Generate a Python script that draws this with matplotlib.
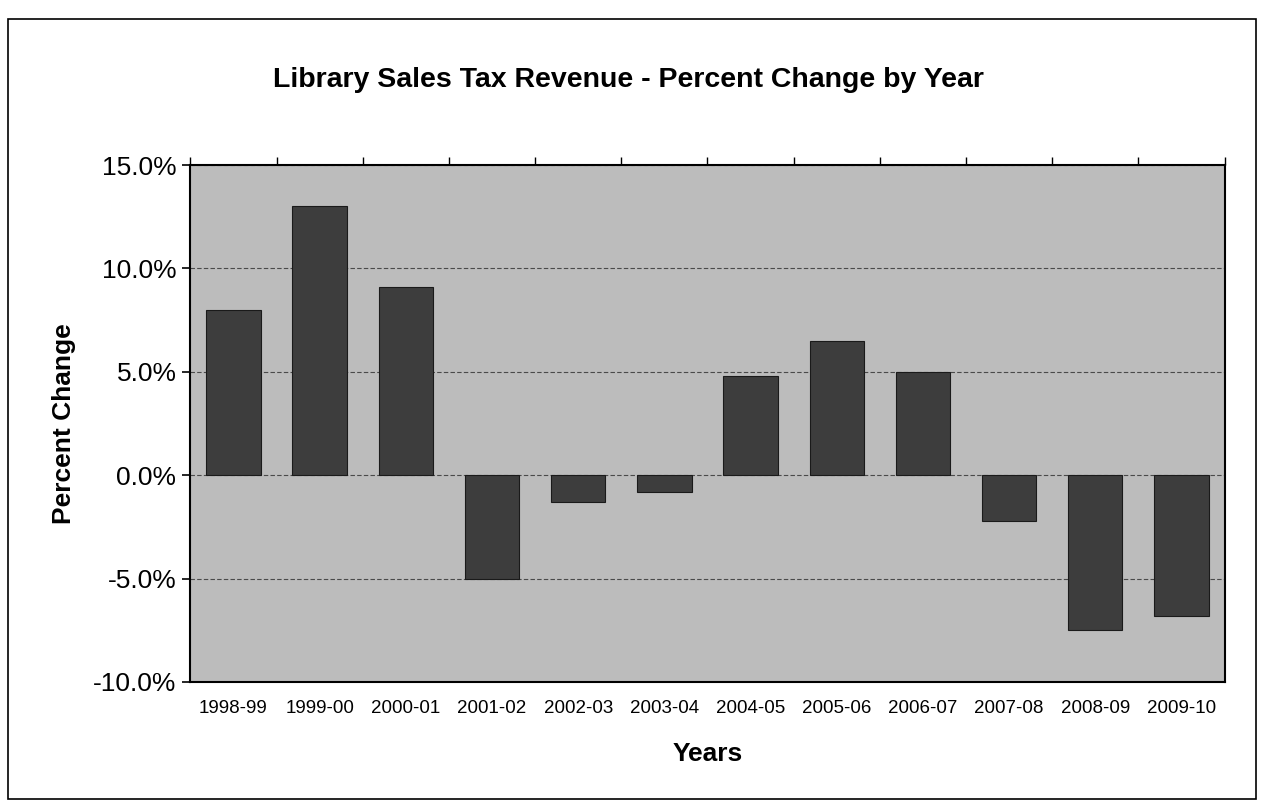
import numpy as np
import matplotlib.pyplot as plt
from matplotlib.patches import Rectangle
from matplotlib.ticker import FuncFormatter

years = ['1998-99', '1999-00', '2000-01', '2001-02', '2002-03', '2003-04',
         '2004-05', '2005-06', '2006-07', '2007-08', '2008-09', '2009-10']
pct_change = [8.0, 13.0, 9.1, -5.0, -1.3, -0.8, 4.8, 6.5, 5.0, -2.2, -7.5, -6.8]
y_ticks = [-10, -5, 0, 5, 10, 15]

plt.rcParams['font.family'] = ['Liberation Sans', 'DejaVu Sans']

fig = plt.figure(figsize=(12.69, 8.09), dpi=100)
fig.patch.set_facecolor('white')

# outer chart border
fig.patches.append(Rectangle((0.006, 0.012), 0.984, 0.965, transform=fig.transFigure,
                             fill=False, edgecolor='black', linewidth=1.2))

ax = fig.add_axes([0.150, 0.157, 0.815, 0.639])
ax.set_facecolor('#bcbcbc')

x = np.arange(len(years))
ax.bar(x, pct_change, width=0.63, color='#3d3d3d', edgecolor='#1a1a1a', linewidth=0.8, zorder=3)

ax.set_xlim(-0.5, len(years) - 0.5)
ax.set_ylim(-10, 15)
ax.set_yticks(y_ticks)
ax.yaxis.set_major_formatter(FuncFormatter(lambda v, p: f'{v:.1f}%'))
ax.grid(axis='y', color='#4a4a4a', linestyle=(0, (4, 2)), linewidth=0.8, zorder=1)

ax.set_xticks(x)
ax.set_xticklabels(years, fontsize=13.5)
ax.tick_params(axis='x', length=0, pad=13)
ax.tick_params(axis='y', labelsize=19, length=6, width=1.2, direction='out', pad=4)

# category separators on top edge
ax.set_xticks(np.arange(len(years) + 1) - 0.5, minor=True)
ax.tick_params(axis='x', which='minor', top=True, bottom=False, length=6, width=1.0, direction='out')

for s in ax.spines.values():
    s.set_linewidth(1.5)
    s.set_color('black')

fig.text(0.495, 1 - 80 / 809, 'Library Sales Tax Revenue - Percent Change by Year',
         fontsize=20.5, fontweight='bold', ha='center', va='center')
ax.set_xlabel('Years', fontsize=19, fontweight='bold', labelpad=18)
ax.set_ylabel('Percent Change', fontsize=19, fontweight='bold', labelpad=12)

plt.savefig('out.png', dpi=100)
plt.close()
